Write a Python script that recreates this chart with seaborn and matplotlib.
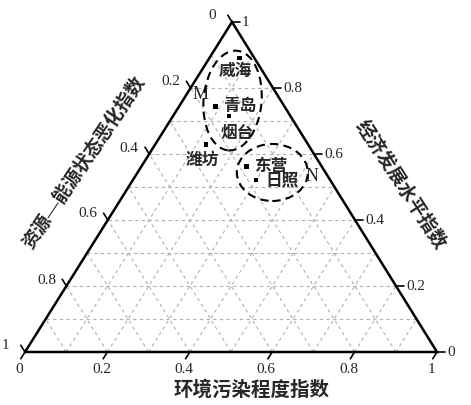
import numpy as np
import pandas as pd
import seaborn as sns
import matplotlib.pyplot as plt
from matplotlib.patches import Ellipse

# ternary components: resource-energy (a), environment (b), economy (c)
cities = ['威海', '青岛', '烟台', '潍坊', '东营', '日照']
resource = [0.037, 0.166, 0.149, 0.247, 0.184, 0.180]
env = [0.072, 0.089, 0.136, 0.123, 0.255, 0.299]
econ = [0.891, 0.745, 0.715, 0.630, 0.561, 0.521]
ticks = [0, 0.2, 0.4, 0.6, 0.8, 1]
tick_labels = ['0', '0.2', '0.4', '0.6', '0.8', '1']
grid_levels = [0.1, 0.2, 0.3, 0.4, 0.5, 0.6, 0.7, 0.8, 0.9]

# pixel-ish layout of the triangle (apex slightly compressed)
TX, TY = 207 / 412, 330 / 412


def tern(b, c):
    b = np.asarray(b, dtype=float)
    c = np.asarray(c, dtype=float)
    return b + c * TX, c * TY


sns.set_style("white")
plt.rcParams['font.family'] = ['Liberation Serif', 'Noto Sans CJK SC']

fig = plt.figure(figsize=(4.71, 4.06), dpi=100)
ax = fig.add_axes([0, 0, 1, 1])
ax.set_xlim(-25 / 412, 446 / 412)
ax.set_ylim(-53 / 412, 353 / 412)
ax.axis('off')

# grid
gkw = dict(color='#b0b0b0', lw=0.8, ls=(0, (3, 3)), zorder=1)
for g in grid_levels:
    if g <= 0.8:
        x, y = tern([0, 1 - g], [g, g])          # const economy
        ax.plot(x, y, **gkw)
    x, y = tern([1 - g, 1 - g], [0, g])          # const resource
    ax.plot(x, y, **gkw)
    x, y = tern([g, 0], [0, g])                  # const environment
    ax.plot(x, y, **gkw)

# frame
x, y = tern([0, 1, 0, 0], [0, 0, 1, 0])
ax.plot(x, y, color='black', lw=1.8, zorder=3, solid_joinstyle='miter')

# ticks and labels
L = 8 / 412
ux, uy = -TX / np.hypot(TX, TY), -TY / np.hypot(TX, TY)
for t, lab in zip(ticks, tick_labels):
    # bottom: environment
    x0, y0 = tern(t, 0)
    ax.plot([x0, x0 + ux * L], [y0, y0 + uy * L], color='black', lw=1.2)
    ax.text(x0 - 6 / 412, y0 - 17 / 412, lab, ha='center', va='center', fontsize=11)
    # right: economy
    x0, y0 = tern(1 - t, t)
    ax.plot([x0, x0 + L], [y0, y0], color='black', lw=1.2)
    ax.text(x0 + L + 2 / 412, y0, lab, ha='left', va='center', fontsize=11)
    # left: resource (0 at apex)
    x0, y0 = tern(0, 1 - t)
    vx, vy = -(1 - TX) / np.hypot(1 - TX, TY), TY / np.hypot(1 - TX, TY)
    ax.plot([x0, x0 + vx * L], [y0, y0 + vy * L], color='black', lw=1.2)
    ax.text(x0 - 20 / 412, y0 + 7 / 412, lab, ha='center', va='center', fontsize=11)

# axis titles
ax.text(227 / 412, -37 / 412, '环境污染程度指数', ha='center', va='center',
        fontsize=14, fontweight='bold')
ax.text(59 / 412, 190 / 412, '资源—能源状态恶化指数', ha='center', va='center',
        fontsize=13.3, fontweight='bold', rotation=56)
ax.text(376 / 412, 168 / 412, '经济发展水平指数', ha='center', va='center',
        fontsize=13.5, fontweight='bold', rotation=-57)

# cities
df = pd.DataFrame({'city': cities, 'resource': resource, 'env': env, 'econ': econ})
df['x'], df['y'] = tern(df['env'], df['econ'])
sns.scatterplot(data=df, x='x', y='y', marker='s', color='black', s=12,
                edgecolor='none', ax=ax, legend=False, zorder=4)

offsets = {'威海': (-3, -9.5), '青岛': (17, 0), '烟台': (6, -12), '潍坊': (-3, -11),
           '东营': (18, 0.5), '日照': (19, -0.7)}
for _, r in df.iterrows():
    ax.annotate(r['city'], (r['x'], r['y']), xytext=offsets[r['city']],
                textcoords='offset points', ha='center', va='center',
                fontsize=12, fontweight='bold')

# grouping ellipses
for (b, c, w, h, ang) in [(0.121, 0.762, 58, 100, -5), (0.327, 0.544, 71, 57, 0)]:
    cx, cy = tern(b, c)
    ax.add_patch(Ellipse((cx, cy), w / 412, h / 412, angle=ang, fill=False,
                         ec='black', lw=1.5, ls=(0, (4, 2.5)), zorder=5))

ax.text(176 / 412, 258 / 412, 'M', ha='center', va='center', fontsize=13)
ax.text(287 / 412, 176 / 412, 'N', ha='center', va='center', fontsize=13)

fig.savefig('out.png', dpi=100)
